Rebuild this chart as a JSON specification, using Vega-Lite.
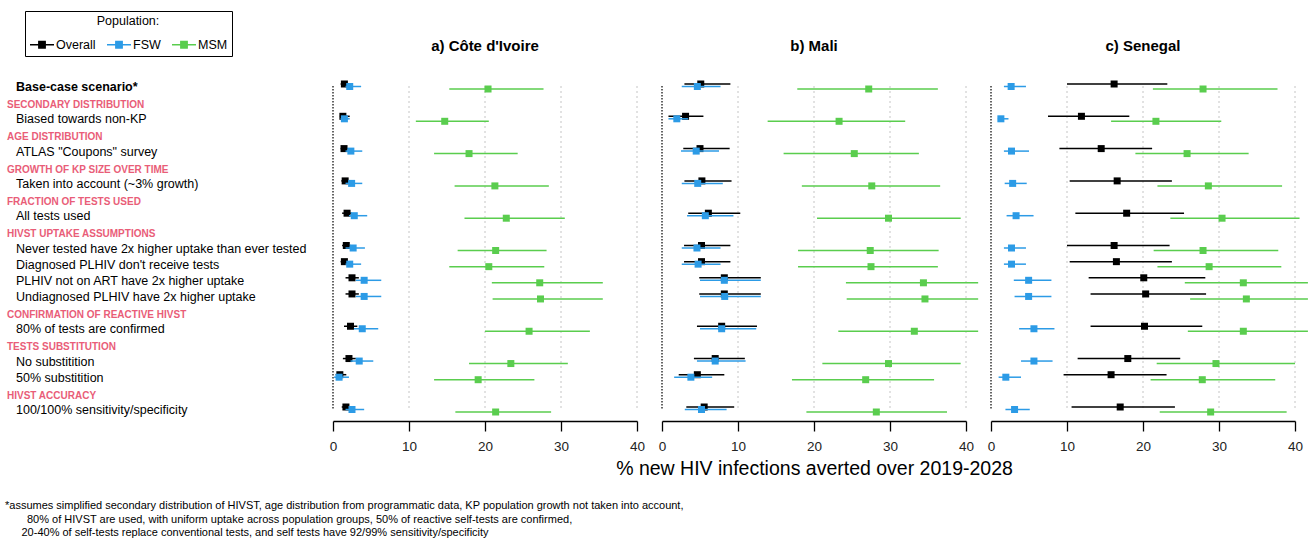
{
"$schema": "https://vega.github.io/schema/vega-lite/v6.json",
"background": "white",
"padding": {"left": 0, "top": 10, "right": 0, "bottom": 0},
"spacing": 25,
"bounds": "flush",
"title": {"text": ["*assumes simplified secondary distribution of HIVST, age distribution from programmatic data, KP population growth not taken into account,", "\u200b\u2002\u2002\u2002\u200280% of HIVST are used, with uniform uptake across population groups, 50% of reactive self-tests are confirmed,", "\u200b\u2002\u2002\u200220-40% of self-tests replace conventional tests, and self tests have 92/99% sensitivity/specificity"], "orient": "bottom", "anchor": "start", "frame": "group", "fontSize": 11, "fontWeight": "normal", "lineHeight": 13.5, "dx": 5, "offset": 22, "color": "#000", "font": "Liberation Sans"},
"datasets": {
"grid": [{"v": 0}, {"v": 10}, {"v": 20}, {"v": 30}, {"v": 40}],
"labels": [
{"id":"base","t":"Base-case scenario*","k":"base"},
{"id":"h1","t":"SECONDARY DISTRIBUTION","k":"head"},
{"id":"biased","t":"Biased towards non-KP","k":"item"},
{"id":"h2","t":"AGE DISTRIBUTION","k":"head"},
{"id":"atlas","t":"ATLAS \"Coupons\" survey","k":"item"},
{"id":"h3","t":"GROWTH OF KP SIZE OVER TIME","k":"head"},
{"id":"growth","t":"Taken into account (~3% growth)","k":"item"},
{"id":"h4","t":"FRACTION OF TESTS USED","k":"head"},
{"id":"alltests","t":"All tests used","k":"item"},
{"id":"h5","t":"HIVST UPTAKE ASSUMPTIONS","k":"head"},
{"id":"never","t":"Never tested have 2x higher uptake than ever tested","k":"item"},
{"id":"diag","t":"Diagnosed PLHIV don't receive tests","k":"item"},
{"id":"notart","t":"PLHIV not on ART have 2x higher uptake","k":"item"},
{"id":"undiag","t":"Undiagnosed PLHIV have 2x higher uptake","k":"item"},
{"id":"h6","t":"CONFIRMATION OF REACTIVE HIVST","k":"head"},
{"id":"confirm","t":"80% of tests are confirmed","k":"item"},
{"id":"h7","t":"TESTS SUBSTITUTION","k":"head"},
{"id":"nosub","t":"No substitition","k":"item"},
{"id":"sub50","t":"50% substitition","k":"item"},
{"id":"h8","t":"HIVST ACCURACY","k":"head"},
{"id":"acc","t":"100/100% sensitivity/specificity","k":"item"}
],
"est": [
{"c":"CI","s":"base","p":"Overall","est":1.5,"lo":1.0,"hi":2.0},
{"c":"CI","s":"base","p":"FSW","est":2.2,"lo":1.65,"hi":3.7},
{"c":"CI","s":"base","p":"MSM","est":20.4,"lo":15.3,"hi":27.7},
{"c":"CI","s":"biased","p":"Overall","est":1.3,"lo":0.9,"hi":2.2},
{"c":"CI","s":"biased","p":"FSW","est":1.5,"lo":1.0,"hi":2.2},
{"c":"CI","s":"biased","p":"MSM","est":14.7,"lo":10.9,"hi":20.5},
{"c":"CI","s":"atlas","p":"Overall","est":1.45,"lo":1.0,"hi":2.0},
{"c":"CI","s":"atlas","p":"FSW","est":2.35,"lo":1.65,"hi":3.85},
{"c":"CI","s":"atlas","p":"MSM","est":17.9,"lo":13.3,"hi":24.3},
{"c":"CI","s":"growth","p":"Overall","est":1.6,"lo":1.1,"hi":2.1},
{"c":"CI","s":"growth","p":"FSW","est":2.45,"lo":1.65,"hi":3.85},
{"c":"CI","s":"growth","p":"MSM","est":21.3,"lo":16.0,"hi":28.4},
{"c":"CI","s":"alltests","p":"Overall","est":1.85,"lo":1.2,"hi":2.45},
{"c":"CI","s":"alltests","p":"FSW","est":2.8,"lo":2.1,"hi":4.5},
{"c":"CI","s":"alltests","p":"MSM","est":22.8,"lo":17.3,"hi":30.5},
{"c":"CI","s":"never","p":"Overall","est":1.75,"lo":1.2,"hi":2.3},
{"c":"CI","s":"never","p":"FSW","est":2.65,"lo":1.65,"hi":4.2},
{"c":"CI","s":"never","p":"MSM","est":21.4,"lo":16.4,"hi":28.1},
{"c":"CI","s":"diag","p":"Overall","est":1.5,"lo":1.0,"hi":2.0},
{"c":"CI","s":"diag","p":"FSW","est":2.2,"lo":1.65,"hi":3.7},
{"c":"CI","s":"diag","p":"MSM","est":20.5,"lo":15.3,"hi":27.8},
{"c":"CI","s":"notart","p":"Overall","est":2.5,"lo":1.65,"hi":3.4},
{"c":"CI","s":"notart","p":"FSW","est":4.1,"lo":3.0,"hi":6.35},
{"c":"CI","s":"notart","p":"MSM","est":27.2,"lo":20.9,"hi":35.5},
{"c":"CI","s":"undiag","p":"Overall","est":2.5,"lo":1.65,"hi":3.4},
{"c":"CI","s":"undiag","p":"FSW","est":4.1,"lo":3.0,"hi":6.35},
{"c":"CI","s":"undiag","p":"MSM","est":27.3,"lo":21.0,"hi":35.5},
{"c":"CI","s":"confirm","p":"Overall","est":2.3,"lo":1.45,"hi":3.2},
{"c":"CI","s":"confirm","p":"FSW","est":3.85,"lo":2.75,"hi":5.95},
{"c":"CI","s":"confirm","p":"MSM","est":25.8,"lo":20.0,"hi":33.8},
{"c":"CI","s":"nosub","p":"Overall","est":2.1,"lo":1.3,"hi":3.0},
{"c":"CI","s":"nosub","p":"FSW","est":3.45,"lo":2.3,"hi":5.3},
{"c":"CI","s":"nosub","p":"MSM","est":23.4,"lo":17.9,"hi":30.9},
{"c":"CI","s":"sub50","p":"Overall","est":0.9,"lo":0.35,"hi":1.75},
{"c":"CI","s":"sub50","p":"FSW","est":0.8,"lo":0.15,"hi":2.1},
{"c":"CI","s":"sub50","p":"MSM","est":19.1,"lo":13.3,"hi":26.5},
{"c":"CI","s":"acc","p":"Overall","est":1.7,"lo":1.15,"hi":2.2},
{"c":"CI","s":"acc","p":"FSW","est":2.5,"lo":1.65,"hi":4.1},
{"c":"CI","s":"acc","p":"MSM","est":21.4,"lo":16.1,"hi":28.7},
{"c":"ML","s":"base","p":"Overall","est":5.1,"lo":2.95,"hi":9.0},
{"c":"ML","s":"base","p":"FSW","est":4.65,"lo":2.6,"hi":7.7},
{"c":"ML","s":"base","p":"MSM","est":27.2,"lo":17.8,"hi":36.3},
{"c":"ML","s":"biased","p":"Overall","est":3.1,"lo":0.85,"hi":5.45},
{"c":"ML","s":"biased","p":"FSW","est":1.95,"lo":0.85,"hi":3.45},
{"c":"ML","s":"biased","p":"MSM","est":23.3,"lo":13.9,"hi":32.0},
{"c":"ML","s":"atlas","p":"Overall","est":5.0,"lo":2.8,"hi":8.9},
{"c":"ML","s":"atlas","p":"FSW","est":4.5,"lo":2.5,"hi":7.5},
{"c":"ML","s":"atlas","p":"MSM","est":25.3,"lo":16.0,"hi":33.8},
{"c":"ML","s":"growth","p":"Overall","est":5.25,"lo":2.95,"hi":9.15},
{"c":"ML","s":"growth","p":"FSW","est":4.7,"lo":2.6,"hi":8.0},
{"c":"ML","s":"growth","p":"MSM","est":27.6,"lo":18.4,"hi":36.6},
{"c":"ML","s":"alltests","p":"Overall","est":6.1,"lo":3.45,"hi":10.3},
{"c":"ML","s":"alltests","p":"FSW","est":5.7,"lo":3.3,"hi":9.4},
{"c":"ML","s":"alltests","p":"MSM","est":29.8,"lo":20.4,"hi":39.3},
{"c":"ML","s":"never","p":"Overall","est":5.2,"lo":2.9,"hi":9.0},
{"c":"ML","s":"never","p":"FSW","est":4.6,"lo":2.6,"hi":7.7},
{"c":"ML","s":"never","p":"MSM","est":27.4,"lo":17.9,"hi":36.4},
{"c":"ML","s":"diag","p":"Overall","est":5.2,"lo":2.9,"hi":9.0},
{"c":"ML","s":"diag","p":"FSW","est":4.75,"lo":2.6,"hi":7.7},
{"c":"ML","s":"diag","p":"MSM","est":27.5,"lo":17.9,"hi":36.3},
{"c":"ML","s":"notart","p":"Overall","est":8.2,"lo":4.9,"hi":13.0},
{"c":"ML","s":"notart","p":"FSW","est":8.2,"lo":5.0,"hi":13.0},
{"c":"ML","s":"notart","p":"MSM","est":34.4,"lo":24.2,"hi":41.6},
{"c":"ML","s":"undiag","p":"Overall","est":8.2,"lo":4.9,"hi":13.0},
{"c":"ML","s":"undiag","p":"FSW","est":8.25,"lo":5.0,"hi":13.0},
{"c":"ML","s":"undiag","p":"MSM","est":34.6,"lo":24.3,"hi":41.6},
{"c":"ML","s":"confirm","p":"Overall","est":7.85,"lo":4.6,"hi":12.5},
{"c":"ML","s":"confirm","p":"FSW","est":7.85,"lo":5.0,"hi":12.4},
{"c":"ML","s":"confirm","p":"MSM","est":33.2,"lo":23.2,"hi":41.6},
{"c":"ML","s":"nosub","p":"Overall","est":7.0,"lo":4.2,"hi":10.9},
{"c":"ML","s":"nosub","p":"FSW","est":7.0,"lo":4.6,"hi":11.0},
{"c":"ML","s":"nosub","p":"MSM","est":29.8,"lo":21.1,"hi":39.3},
{"c":"ML","s":"sub50","p":"Overall","est":4.65,"lo":2.2,"hi":8.2},
{"c":"ML","s":"sub50","p":"FSW","est":3.8,"lo":1.6,"hi":6.6},
{"c":"ML","s":"sub50","p":"MSM","est":26.8,"lo":17.1,"hi":35.8},
{"c":"ML","s":"acc","p":"Overall","est":5.55,"lo":3.2,"hi":9.5},
{"c":"ML","s":"acc","p":"FSW","est":5.2,"lo":3.0,"hi":8.5},
{"c":"ML","s":"acc","p":"MSM","est":28.2,"lo":19.0,"hi":37.5},
{"c":"SN","s":"base","p":"Overall","est":16.2,"lo":10.0,"hi":23.2},
{"c":"SN","s":"base","p":"FSW","est":2.65,"lo":1.7,"hi":4.6},
{"c":"SN","s":"base","p":"MSM","est":27.9,"lo":21.3,"hi":37.7},
{"c":"SN","s":"biased","p":"Overall","est":11.9,"lo":7.5,"hi":18.2},
{"c":"SN","s":"biased","p":"FSW","est":1.3,"lo":0.9,"hi":2.3},
{"c":"SN","s":"biased","p":"MSM","est":21.7,"lo":15.8,"hi":30.3},
{"c":"SN","s":"atlas","p":"Overall","est":14.5,"lo":9.0,"hi":21.2},
{"c":"SN","s":"atlas","p":"FSW","est":2.7,"lo":1.7,"hi":5.0},
{"c":"SN","s":"atlas","p":"MSM","est":25.8,"lo":19.0,"hi":33.9},
{"c":"SN","s":"growth","p":"Overall","est":16.6,"lo":10.35,"hi":23.8},
{"c":"SN","s":"growth","p":"FSW","est":2.85,"lo":1.8,"hi":4.7},
{"c":"SN","s":"growth","p":"MSM","est":28.6,"lo":21.9,"hi":38.3},
{"c":"SN","s":"alltests","p":"Overall","est":17.85,"lo":11.1,"hi":25.4},
{"c":"SN","s":"alltests","p":"FSW","est":3.3,"lo":2.05,"hi":5.6},
{"c":"SN","s":"alltests","p":"MSM","est":30.4,"lo":23.6,"hi":40.6},
{"c":"SN","s":"never","p":"Overall","est":16.2,"lo":10.0,"hi":23.5},
{"c":"SN","s":"never","p":"FSW","est":2.7,"lo":1.7,"hi":4.6},
{"c":"SN","s":"never","p":"MSM","est":27.9,"lo":21.4,"hi":37.8},
{"c":"SN","s":"diag","p":"Overall","est":16.5,"lo":10.35,"hi":23.8},
{"c":"SN","s":"diag","p":"FSW","est":2.7,"lo":1.7,"hi":4.6},
{"c":"SN","s":"diag","p":"MSM","est":28.7,"lo":21.9,"hi":38.2},
{"c":"SN","s":"notart","p":"Overall","est":20.1,"lo":12.85,"hi":28.2},
{"c":"SN","s":"notart","p":"FSW","est":4.95,"lo":3.0,"hi":7.95},
{"c":"SN","s":"notart","p":"MSM","est":33.2,"lo":25.5,"hi":41.7},
{"c":"SN","s":"undiag","p":"Overall","est":20.35,"lo":13.1,"hi":28.3},
{"c":"SN","s":"undiag","p":"FSW","est":4.95,"lo":3.1,"hi":7.95},
{"c":"SN","s":"undiag","p":"MSM","est":33.6,"lo":26.2,"hi":41.7},
{"c":"SN","s":"confirm","p":"Overall","est":20.2,"lo":13.1,"hi":27.8},
{"c":"SN","s":"confirm","p":"FSW","est":5.65,"lo":3.7,"hi":8.35},
{"c":"SN","s":"confirm","p":"MSM","est":33.2,"lo":25.9,"hi":41.7},
{"c":"SN","s":"nosub","p":"Overall","est":18.0,"lo":11.4,"hi":24.9},
{"c":"SN","s":"nosub","p":"FSW","est":5.65,"lo":3.95,"hi":8.1},
{"c":"SN","s":"nosub","p":"MSM","est":29.6,"lo":21.8,"hi":40.0},
{"c":"SN","s":"sub50","p":"Overall","est":15.8,"lo":9.55,"hi":23.1},
{"c":"SN","s":"sub50","p":"FSW","est":1.95,"lo":1.0,"hi":3.95},
{"c":"SN","s":"sub50","p":"MSM","est":27.8,"lo":21.0,"hi":37.4},
{"c":"SN","s":"acc","p":"Overall","est":17.0,"lo":10.6,"hi":24.2},
{"c":"SN","s":"acc","p":"FSW","est":3.1,"lo":1.9,"hi":5.1},
{"c":"SN","s":"acc","p":"MSM","est":28.9,"lo":22.2,"hi":38.9}
]
},
"hconcat": [
{
"width": 308, "height": 347,
"data": {"name": "labels"},
"layer": [
{"transform": [{"filter": "datum.k == 'base'"}], "mark": {"type": "text", "align": "left", "baseline": "middle", "dx": 16, "dy": 1, "fontSize": 12.5, "fontWeight": "bold", "color": "#000", "font": "Liberation Sans"},
 "encoding": {"x": {"value": 0}, "y": {"field": "id", "type": "nominal", "scale": {"type": "point", "padding": 0.743, "domain": ["base","h1","biased","h2","atlas","h3","growth","h4","alltests","h5","never","diag","notart","undiag","h6","confirm","h7","nosub","sub50","h8","acc"]}, "axis": null}, "text": {"field": "t"}}},
{"transform": [{"filter": "datum.k == 'head'"}], "mark": {"type": "text", "align": "left", "baseline": "middle", "dx": 7, "dy": 3, "fontSize": 10, "fontWeight": "bold", "color": "#e95d78", "font": "Liberation Sans"},
 "encoding": {"x": {"value": 0}, "y": {"field": "id", "type": "nominal", "scale": {"type": "point", "padding": 0.743, "domain": ["base","h1","biased","h2","atlas","h3","growth","h4","alltests","h5","never","diag","notart","undiag","h6","confirm","h7","nosub","sub50","h8","acc"]}, "axis": null}, "text": {"field": "t"}}},
{"transform": [{"filter": "datum.k == 'item'"}], "mark": {"type": "text", "align": "left", "baseline": "middle", "dx": 16, "dy": 1, "fontSize": 12.5, "color": "#000", "font": "Liberation Sans"},
 "encoding": {"x": {"value": 0}, "y": {"field": "id", "type": "nominal", "scale": {"type": "point", "padding": 0.743, "domain": ["base","h1","biased","h2","atlas","h3","growth","h4","alltests","h5","never","diag","notart","undiag","h6","confirm","h7","nosub","sub50","h8","acc"]}, "axis": null}, "text": {"field": "t"}}}
]
},
{
"width": 304, "height": 347,
"title": {"text": "a) Côte d'Ivoire", "anchor": "middle"},
"layer": [
{"data": {"name": "grid"}, "transform": [{"filter": "datum.v > 0"}], "mark": {"type": "rule", "color": "#c4c4c4", "strokeDash": [2, 3], "strokeWidth": 1},
 "encoding": {"x": {"field": "v", "type": "quantitative", "title": null, "scale": {"domain": [0, 40], "nice": false}, "axis": {"values": [0, 10, 20, 30, 40]}}, "y": {"datum": "base", "type": "nominal", "scale": {"type": "point", "padding": 0.743, "domain": ["base","h1","biased","h2","atlas","h3","growth","h4","alltests","h5","never","diag","notart","undiag","h6","confirm","h7","nosub","sub50","h8","acc"]}, "axis": null}, "y2": {"datum": "acc"}}},
{"data": {"name": "grid"}, "transform": [{"filter": "datum.v == 0"}], "mark": {"type": "rule", "color": "#333", "strokeDash": [1.5, 1.5], "strokeWidth": 1.5},
 "encoding": {"x": {"field": "v", "type": "quantitative", "title": null}, "y": {"datum": "base", "type": "nominal", "axis": null}, "y2": {"datum": "acc"}}},
{"data": {"name": "est"}, "transform": [{"filter": "datum.c == 'CI' && datum.p == 'Overall'"}], "mark": {"type": "rule", "strokeWidth": 1.5, "yOffset": -2},
 "encoding": {"x": {"field": "lo", "type": "quantitative", "title": null}, "x2": {"field": "hi"}, "y": {"field": "s", "type": "nominal", "axis": null}, "color": {"field": "p", "type": "nominal", "title": "Population:", "scale": {"domain": ["Overall", "FSW", "MSM"], "range": ["#000000", "#2c9be6", "#5acd4e"]},
   "legend": {"orient": "none", "legendX": 25, "legendY": -63, "direction": "horizontal", "columns": 3, "titleAnchor": "middle", "titleFontSize": 12.5, "titleFontWeight": "normal", "titleColor": "#000", "titleFont": "Liberation Sans", "titlePadding": 4, "labelFontSize": 12.5, "labelColor": "#000", "labelFont": "Liberation Sans", "labelOffset": 1, "columnPadding": 8, "padding": 4, "strokeColor": "#000", "fillColor": "#fff", "symbolSize": 576, "symbolStrokeWidth": 1.3, "symbolType": "M-1,0H1M-0.27,-0.27H0.27V0.27H-0.27Z",
     "encode": {"symbols": {"update": {"fill": {"scale": "color", "field": "value"}, "stroke": {"scale": "color", "field": "value"}, "strokeWidth": {"value": 1.3}, "opacity": {"value": 1}}}}}}}},
{"data": {"name": "est"}, "transform": [{"filter": "datum.c == 'CI' && datum.p == 'Overall'"}], "mark": {"type": "square", "size": 49, "opacity": 1, "yOffset": -2},
 "encoding": {"x": {"field": "est", "type": "quantitative", "title": null}, "y": {"field": "s", "type": "nominal", "axis": null}, "color": {"field": "p", "type": "nominal", "title": "Population:"}}},
{"data": {"name": "est"}, "transform": [{"filter": "datum.c == 'CI' && datum.p == 'FSW'"}], "mark": {"type": "rule", "strokeWidth": 1.5, "yOffset": 0.5},
 "encoding": {"x": {"field": "lo", "type": "quantitative", "title": null}, "x2": {"field": "hi"}, "y": {"field": "s", "type": "nominal", "axis": null}, "color": {"field": "p", "type": "nominal", "title": "Population:"}}},
{"data": {"name": "est"}, "transform": [{"filter": "datum.c == 'CI' && datum.p == 'FSW'"}], "mark": {"type": "square", "size": 49, "opacity": 1, "yOffset": 0.5},
 "encoding": {"x": {"field": "est", "type": "quantitative", "title": null}, "y": {"field": "s", "type": "nominal", "axis": null}, "color": {"field": "p", "type": "nominal", "title": "Population:"}}},
{"data": {"name": "est"}, "transform": [{"filter": "datum.c == 'CI' && datum.p == 'MSM'"}], "mark": {"type": "rule", "strokeWidth": 1.5, "yOffset": 3},
 "encoding": {"x": {"field": "lo", "type": "quantitative", "title": null}, "x2": {"field": "hi"}, "y": {"field": "s", "type": "nominal", "axis": null}, "color": {"field": "p", "type": "nominal", "title": "Population:"}}},
{"data": {"name": "est"}, "transform": [{"filter": "datum.c == 'CI' && datum.p == 'MSM'"}], "mark": {"type": "square", "size": 49, "opacity": 1, "yOffset": 3},
 "encoding": {"x": {"field": "est", "type": "quantitative", "title": null}, "y": {"field": "s", "type": "nominal", "axis": null}, "color": {"field": "p", "type": "nominal", "title": "Population:"}}}
]
},
{
"width": 304, "height": 347,
"title": {"text": "b) Mali", "anchor": "middle"},
"layer": [
{"data": {"name": "grid"}, "transform": [{"filter": "datum.v > 0"}], "mark": {"type": "rule", "color": "#c4c4c4", "strokeDash": [2, 3], "strokeWidth": 1},
 "encoding": {"x": {"field": "v", "type": "quantitative", "title": "% new HIV infections averted over 2019-2028", "scale": {"domain": [0, 40], "nice": false}, "axis": {"values": [0, 10, 20, 30, 40]}}, "y": {"datum": "base", "type": "nominal", "scale": {"type": "point", "padding": 0.743, "domain": ["base","h1","biased","h2","atlas","h3","growth","h4","alltests","h5","never","diag","notart","undiag","h6","confirm","h7","nosub","sub50","h8","acc"]}, "axis": null}, "y2": {"datum": "acc"}}},
{"data": {"name": "grid"}, "transform": [{"filter": "datum.v == 0"}], "mark": {"type": "rule", "color": "#333", "strokeDash": [1.5, 1.5], "strokeWidth": 1.5},
 "encoding": {"x": {"field": "v", "type": "quantitative", "title": "% new HIV infections averted over 2019-2028"}, "y": {"datum": "base", "type": "nominal", "axis": null}, "y2": {"datum": "acc"}}},
{"data": {"name": "est"}, "transform": [{"filter": "datum.c == 'ML' && datum.p == 'Overall'"}], "mark": {"type": "rule", "strokeWidth": 1.5, "yOffset": -2},
 "encoding": {"x": {"field": "lo", "type": "quantitative", "title": "% new HIV infections averted over 2019-2028"}, "x2": {"field": "hi"}, "y": {"field": "s", "type": "nominal", "axis": null}, "color": {"field": "p", "type": "nominal", "title": "Population:"}}},
{"data": {"name": "est"}, "transform": [{"filter": "datum.c == 'ML' && datum.p == 'Overall'"}], "mark": {"type": "square", "size": 49, "opacity": 1, "yOffset": -2},
 "encoding": {"x": {"field": "est", "type": "quantitative", "title": "% new HIV infections averted over 2019-2028"}, "y": {"field": "s", "type": "nominal", "axis": null}, "color": {"field": "p", "type": "nominal", "title": "Population:"}}},
{"data": {"name": "est"}, "transform": [{"filter": "datum.c == 'ML' && datum.p == 'FSW'"}], "mark": {"type": "rule", "strokeWidth": 1.5, "yOffset": 0.5},
 "encoding": {"x": {"field": "lo", "type": "quantitative", "title": "% new HIV infections averted over 2019-2028"}, "x2": {"field": "hi"}, "y": {"field": "s", "type": "nominal", "axis": null}, "color": {"field": "p", "type": "nominal", "title": "Population:"}}},
{"data": {"name": "est"}, "transform": [{"filter": "datum.c == 'ML' && datum.p == 'FSW'"}], "mark": {"type": "square", "size": 49, "opacity": 1, "yOffset": 0.5},
 "encoding": {"x": {"field": "est", "type": "quantitative", "title": "% new HIV infections averted over 2019-2028"}, "y": {"field": "s", "type": "nominal", "axis": null}, "color": {"field": "p", "type": "nominal", "title": "Population:"}}},
{"data": {"name": "est"}, "transform": [{"filter": "datum.c == 'ML' && datum.p == 'MSM'"}], "mark": {"type": "rule", "strokeWidth": 1.5, "yOffset": 3},
 "encoding": {"x": {"field": "lo", "type": "quantitative", "title": "% new HIV infections averted over 2019-2028"}, "x2": {"field": "hi"}, "y": {"field": "s", "type": "nominal", "axis": null}, "color": {"field": "p", "type": "nominal", "title": "Population:"}}},
{"data": {"name": "est"}, "transform": [{"filter": "datum.c == 'ML' && datum.p == 'MSM'"}], "mark": {"type": "square", "size": 49, "opacity": 1, "yOffset": 3},
 "encoding": {"x": {"field": "est", "type": "quantitative", "title": "% new HIV infections averted over 2019-2028"}, "y": {"field": "s", "type": "nominal", "axis": null}, "color": {"field": "p", "type": "nominal", "title": "Population:"}}}
]
},
{
"width": 304, "height": 347,
"title": {"text": "c) Senegal", "anchor": "middle"},
"layer": [
{"data": {"name": "grid"}, "transform": [{"filter": "datum.v > 0"}], "mark": {"type": "rule", "color": "#c4c4c4", "strokeDash": [2, 3], "strokeWidth": 1},
 "encoding": {"x": {"field": "v", "type": "quantitative", "title": null, "scale": {"domain": [0, 40], "nice": false}, "axis": {"values": [0, 10, 20, 30, 40]}}, "y": {"datum": "base", "type": "nominal", "scale": {"type": "point", "padding": 0.743, "domain": ["base","h1","biased","h2","atlas","h3","growth","h4","alltests","h5","never","diag","notart","undiag","h6","confirm","h7","nosub","sub50","h8","acc"]}, "axis": null}, "y2": {"datum": "acc"}}},
{"data": {"name": "grid"}, "transform": [{"filter": "datum.v == 0"}], "mark": {"type": "rule", "color": "#333", "strokeDash": [1.5, 1.5], "strokeWidth": 1.5},
 "encoding": {"x": {"field": "v", "type": "quantitative", "title": null}, "y": {"datum": "base", "type": "nominal", "axis": null}, "y2": {"datum": "acc"}}},
{"data": {"name": "est"}, "transform": [{"filter": "datum.c == 'SN' && datum.p == 'Overall'"}], "mark": {"type": "rule", "strokeWidth": 1.5, "yOffset": -2},
 "encoding": {"x": {"field": "lo", "type": "quantitative", "title": null}, "x2": {"field": "hi"}, "y": {"field": "s", "type": "nominal", "axis": null}, "color": {"field": "p", "type": "nominal", "title": "Population:"}}},
{"data": {"name": "est"}, "transform": [{"filter": "datum.c == 'SN' && datum.p == 'Overall'"}], "mark": {"type": "square", "size": 49, "opacity": 1, "yOffset": -2},
 "encoding": {"x": {"field": "est", "type": "quantitative", "title": null}, "y": {"field": "s", "type": "nominal", "axis": null}, "color": {"field": "p", "type": "nominal", "title": "Population:"}}},
{"data": {"name": "est"}, "transform": [{"filter": "datum.c == 'SN' && datum.p == 'FSW'"}], "mark": {"type": "rule", "strokeWidth": 1.5, "yOffset": 0.5},
 "encoding": {"x": {"field": "lo", "type": "quantitative", "title": null}, "x2": {"field": "hi"}, "y": {"field": "s", "type": "nominal", "axis": null}, "color": {"field": "p", "type": "nominal", "title": "Population:"}}},
{"data": {"name": "est"}, "transform": [{"filter": "datum.c == 'SN' && datum.p == 'FSW'"}], "mark": {"type": "square", "size": 49, "opacity": 1, "yOffset": 0.5},
 "encoding": {"x": {"field": "est", "type": "quantitative", "title": null}, "y": {"field": "s", "type": "nominal", "axis": null}, "color": {"field": "p", "type": "nominal", "title": "Population:"}}},
{"data": {"name": "est"}, "transform": [{"filter": "datum.c == 'SN' && datum.p == 'MSM'"}], "mark": {"type": "rule", "strokeWidth": 1.5, "yOffset": 3},
 "encoding": {"x": {"field": "lo", "type": "quantitative", "title": null}, "x2": {"field": "hi"}, "y": {"field": "s", "type": "nominal", "axis": null}, "color": {"field": "p", "type": "nominal", "title": "Population:"}}},
{"data": {"name": "est"}, "transform": [{"filter": "datum.c == 'SN' && datum.p == 'MSM'"}], "mark": {"type": "square", "size": 49, "opacity": 1, "yOffset": 3},
 "encoding": {"x": {"field": "est", "type": "quantitative", "title": null}, "y": {"field": "s", "type": "nominal", "axis": null}, "color": {"field": "p", "type": "nominal", "title": "Population:"}}}
]
}
],
"config": {
"view": {"stroke": null},
"font": "Liberation Sans",
"axisX": {"domainColor": "#000", "domainWidth": 1.3, "tickColor": "#000", "tickWidth": 1.3, "tickSize": 10, "labelFontSize": 13.5, "labelColor": "#222", "labelPadding": 8, "grid": false, "labelFlush": false, "titleFontSize": 19.5, "titleFontWeight": "normal", "titleColor": "#000", "titlePadding": 7, "labelFont": "Liberation Sans", "titleFont": "Liberation Sans"},
"title": {"fontSize": 15, "fontWeight": "bold", "color": "#000", "offset": 20, "font": "Liberation Sans"}
}
}
